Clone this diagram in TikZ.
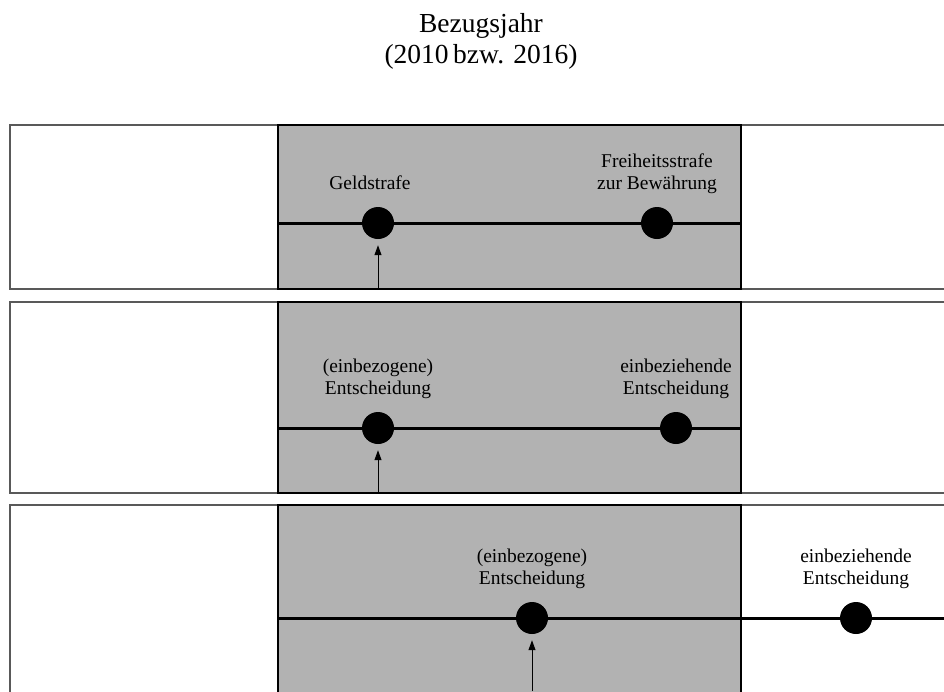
\documentclass[tikz,border=0pt]{standalone}
\usepackage{fontspec}
\setmainfont{Liberation Serif}
\usetikzlibrary{positioning,arrows.meta}

\begin{document}
\begin{tikzpicture}[x=1pt, y=-1pt,
  panel/.style={draw=black!65, line width=1.2pt},
  zone/.style={fill=black!30, draw=black, line width=1.2pt},
  tline/.style={line width=3pt},
  dot/.style={circle, fill=black, minimum size=32pt, inner sep=0pt},
  lbl/.style={font=\fontsize{19.5}{22}\selectfont, align=center, inner sep=0pt},
  arr/.style={-{Triangle[length=10pt,width=7pt]}, line width=1pt, shorten >=6pt}]
\clip (0,0) rectangle (944,691);
\node[font=\fontsize{27.5}{31}\selectfont, align=center, inner sep=0pt, anchor=north] (title) at (481,13) {Bezugsjahr\\(2010\,bzw. 2016)};

% Zeile 1: Geldstrafe / Freiheitsstrafe
\draw[panel] (10,125) rectangle (960,289);
\draw[zone] (278,125) rectangle (741,289);
\coordinate (l1a) at (278,223);
\coordinate (l1b) at (741,223);
\draw[tline] (l1a) -- (l1b);
\node[dot] (geld) at (378,223) {};
\node[dot] (frei) at (657,223) {};
\node[lbl, above=11pt of geld, xshift=-8pt] (geld-t) {Geldstrafe\strut};
\node[lbl, above=11pt of frei] (frei-t) {Freiheitsstrafe\\zur Bewährung\strut};
\coordinate (a1) at (378,289);
\draw[arr] (a1) -- (geld);

% Zeile 2: beide Entscheidungen im Bezugsjahr
\draw[panel] (10,302) rectangle (960,493);
\draw[zone] (278,302) rectangle (741,493);
\coordinate (l2a) at (278,428);
\coordinate (l2b) at (741,428);
\draw[tline] (l2a) -- (l2b);
\node[dot] (einb2) at (378,428) {};
\node[dot] (einz2) at (676,428) {};
\node[lbl, above=11pt of einb2] (einb2-t) {(einbezogene)\\Entscheidung\strut};
\node[lbl, above=11pt of einz2] (einz2-t) {einbeziehende\\Entscheidung\strut};
\coordinate (a2) at (378,493);
\draw[arr] (a2) -- (einb2);

% Zeile 3: einbeziehende Entscheidung nach dem Bezugsjahr
\draw[panel] (10,505) rectangle (960,710);
\draw[zone] (278,505) rectangle (741,710);
\coordinate (l3a) at (278,618);
\coordinate (l3b) at (960,618);
\draw[tline] (l3a) -- (l3b);
\node[dot] (einb3) at (532,618) {};
\node[dot] (einz3) at (856,618) {};
\node[lbl, above=11pt of einb3] (einb3-t) {(einbezogene)\\Entscheidung\strut};
\node[lbl, above=11pt of einz3] (einz3-t) {einbeziehende\\Entscheidung\strut};
\coordinate (a3) at (532,691);
\draw[arr] (a3) -- (einb3);
\end{tikzpicture}
\end{document}
